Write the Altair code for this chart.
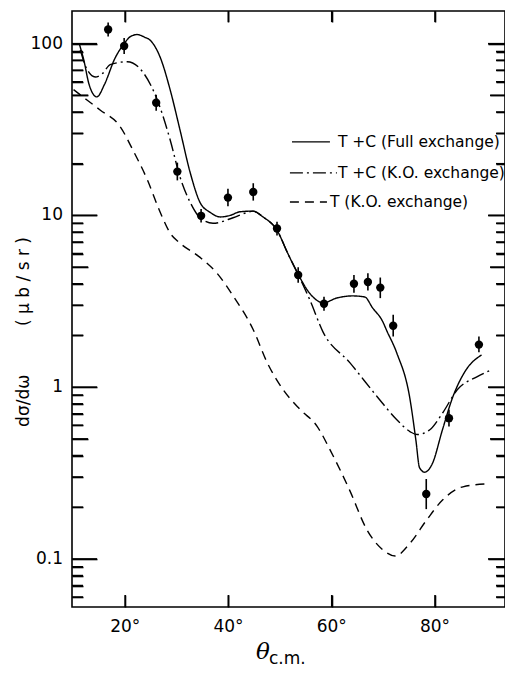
import altair as alt
import pandas as pd
import math

# ---- theory curves ----
full_x = [11.1, 12.0, 13.0, 14.5, 16.0, 18.0, 19.8, 21.0, 22.3, 23.8, 24.8, 26.8, 28.7,
          30.6, 32.6, 34.5, 36.5, 38.4, 40.3, 42.2, 44.7, 46.7, 49.4, 51.5, 53.4, 55.8,
          58.4, 60.9, 64.1, 66.4, 67.9, 69.9, 70.6, 72.6, 75.1, 76.3, 77.0, 78.0, 79.5,
          81.4, 83.4, 86.0, 89.0]
full_y = [100, 80, 58, 49, 58, 82, 100, 110, 113, 109, 105, 83, 54,
          31.6, 17.7, 11.9, 10.4, 9.8, 10.0, 10.5, 10.6, 9.8, 8.2, 6.0, 4.6, 3.5,
          3.1, 3.3, 3.4, 3.35, 2.9, 2.4, 2.15, 1.58, 0.87, 0.49, 0.34, 0.32, 0.36,
          0.56, 0.87, 1.26, 1.54]

ko_x = [11.3, 12.5, 14.2, 15.6, 17.1, 20.4, 23.5, 26.2, 28.7, 30.6, 32.6, 34.5, 37.0,
        40.9, 43.6, 44.7, 46.7, 49.4, 51.5, 53.4, 55.8, 58.3, 63.5, 68.8, 72.6, 75.2,
        76.5, 79.0, 81.5, 84.3, 88.1, 90.6]
ko_y = [92, 72, 64, 67, 75.5, 78.5, 67.8, 47.2, 27.6, 16.8, 11.9, 9.7, 9.0,
        9.7, 10.4, 10.6, 9.8, 8.2, 6.0, 4.6, 3.2, 2.1, 1.39, 0.88, 0.646, 0.55,
        0.53, 0.565, 0.71, 0.966, 1.15, 1.25]

t_x = [10.0, 12.6, 15.2, 19.0, 21.5, 24.3, 26.8, 28.7, 30.6, 34.5, 37.8, 40.9, 44.8,
       47.5, 50.6, 53.9, 57.2, 59.7, 63.5, 66.8, 69.9, 72.3, 75.2, 78.4, 81.5, 85.4, 90.6]
t_y = [54, 47, 41, 33, 24, 16.1, 10.4, 7.9, 6.9, 5.7, 4.6, 3.4, 2.16,
       1.39, 0.966, 0.74, 0.59, 0.43, 0.25, 0.148, 0.113, 0.104, 0.124, 0.169, 0.221, 0.263, 0.274]

# ---- measured points ----
pts_x = [16.7, 19.8, 26.0, 30.1, 34.7, 39.9, 44.8, 49.4, 53.5, 58.5, 64.3, 67.0, 69.4,
         71.9, 78.3, 82.7, 88.5]
pts_y = [121, 97, 45.3, 18.0, 9.95, 12.7, 13.7, 8.4, 4.5, 3.06, 4.0, 4.1, 3.8,
         2.28, 0.239, 0.66, 1.77]
pts_lo = [110, 87, 40.7, 16.0, 9.1, 11.3, 12.2, 7.65, 4.05, 2.79, 3.55, 3.65, 3.3,
          1.97, 0.195, 0.59, 1.6]
pts_hi = [133, 108, 50.4, 20.3, 10.9, 14.3, 15.4, 9.2, 5.0, 3.36, 4.5, 4.6, 4.35,
          2.64, 0.292, 0.74, 1.97]

# ---- ticks and tick labels ----
x_ticks = [20, 40, 60, 80]
x_labels = ["20°", "40°", "60°", "80°"]
y_major = [0.1, 1, 10, 100]
y_labels = ["0.1", "1", "10", "100"]
y_mid = [0.5, 5, 50]
y_minor = [0.06, 0.07, 0.08, 0.09, 0.2, 0.3, 0.4, 0.6, 0.7, 0.8, 0.9,
           2, 3, 4, 6, 7, 8, 9, 20, 30, 40, 60, 70, 80, 90]

# ---- titles ----
y_title = "dσ/dω" + "\u00a0" * 9 + "(\u00a0μ\u00a0b\u00a0/\u00a0s\u00a0r\u00a0)"
x_title = "θ"
x_title_sub = "c.m."

# ---- legend ----
leg_style = ["full", "ko", "t"]
leg_text = ["T +C (Full exchange)", "T +C (K.O. exchange)", "T (K.O. exchange)"]
leg_y = [26.8, 17.7, 11.98]
leg_x0 = [52.3, 51.9, 51.9]
leg_x1 = [59.65, 61.0, 59.07]
leg_tx = [61.2, 61.2, 59.65]

W, H = 433, 596
X_DOM = [9.7, 93.55]
Y_DOM = [0.0525, 155]
xs = alt.Scale(domain=X_DOM, nice=False, zero=False)
ys = alt.Scale(type="log", domain=Y_DOM, nice=False)
dash_scale = alt.Scale(domain=["full", "ko", "t"], range=[[1, 0], [13, 4, 2, 4], [9, 6]])

PX_X = W / (X_DOM[1] - X_DOM[0])
PX_DEC = H / math.log10(Y_DOM[1] / Y_DOM[0])


def X(field):
    return alt.X(field, type="quantitative", scale=xs, axis=None)


def Y(field):
    return alt.Y(field, type="quantitative", scale=ys, axis=None)


curves = pd.concat([
    pd.DataFrame({"x": full_x, "y": full_y, "s": "full"}),
    pd.DataFrame({"x": ko_x, "y": ko_y, "s": "ko"}),
    pd.DataFrame({"x": t_x, "y": t_y, "s": "t"}),
])

lines = alt.Chart(curves).mark_line(color="black", strokeWidth=1.4, interpolate="monotone").encode(
    x=X("x"), y=Y("y"),
    strokeDash=alt.StrokeDash("s:N", scale=dash_scale, legend=None),
    detail="s:N",
)

pts_df = pd.DataFrame({"x": pts_x, "y": pts_y, "lo": pts_lo, "hi": pts_hi})
errs = alt.Chart(pts_df).mark_rule(color="black", strokeWidth=1.6).encode(
    x=X("x"), y=Y("lo"), y2="hi:Q")
dots = alt.Chart(pts_df).mark_circle(color="black", opacity=1, size=70).encode(
    x=X("x"), y=Y("y"))

# inward ticks as short rules (same style as the error bars)
xt_rows = []
for v in x_ticks:
    xt_rows.append({"x": v, "y0": Y_DOM[0], "y1": Y_DOM[0] * 10 ** (12 / PX_DEC)})
    xt_rows.append({"x": v, "y0": Y_DOM[1], "y1": Y_DOM[1] / 10 ** (11 / PX_DEC)})
x_tick_l = alt.Chart(pd.DataFrame(xt_rows)).mark_rule(color="black", strokeWidth=1.6).encode(
    x=X("x"), y=Y("y0"), y2="y1:Q")

yt_rows = []
for vals, left_len, right_len in [(y_major, 25, 17), (y_mid, 16, 15), (y_minor, 11, 9)]:
    for v in vals:
        yt_rows.append({"y": v, "x0": X_DOM[0], "x1": X_DOM[0] + left_len / PX_X})
        yt_rows.append({"y": v, "x0": X_DOM[1], "x1": X_DOM[1] - right_len / PX_X})
y_tick_l = alt.Chart(pd.DataFrame(yt_rows)).mark_rule(color="black", strokeWidth=1.6).encode(
    y=Y("y"), x=X("x0"), x2="x1:Q")

# the same inward ticks again through real axes, flipped onto the opposite edge
y_all = y_major + y_mid + y_minor
maj_test = "indexof([0.1, 1, 10, 100], datum.value) >= 0"
mid_test = "indexof([0.5, 5, 50], datum.value) >= 0"
ax_common = dict(labels=False, domain=False, grid=False, title="", tickColor="black",
                 tickWidth=1.6)
axA = alt.Chart(curves).mark_point(opacity=0).encode(
    x=alt.X("x:Q", scale=xs, axis=alt.Axis(orient="top", offset=-H, values=x_ticks,
                                           tickSize=12, **ax_common)),
    y=alt.Y("y:Q", scale=ys, axis=alt.Axis(
        orient="right", offset=-W, values=y_all,
        tickSize={"condition": [{"test": maj_test, "value": 25},
                                {"test": mid_test, "value": 16}], "value": 11},
        **ax_common)),
)
axB = alt.Chart(curves).mark_point(opacity=0).encode(
    x=alt.X("x:Q", scale=xs, axis=alt.Axis(orient="bottom", offset=-H, values=x_ticks,
                                           tickSize=11, **ax_common)),
    y=alt.Y("y:Q", scale=ys, axis=alt.Axis(
        orient="left", offset=-W, values=y_all,
        tickSize={"condition": [{"test": maj_test, "value": 17},
                                {"test": mid_test, "value": 15}], "value": 9},
        **ax_common)),
)

x_lab = alt.Chart(pd.DataFrame({"x": x_ticks, "lab": x_labels})).mark_text(
    align="center", baseline="top", font="DejaVu Sans", fontSize=17, color="black"
).encode(x=X("x"), y=alt.value(H + 12), text="lab:N")

y_lab = alt.Chart(pd.DataFrame({"y": y_major, "lab": y_labels})).mark_text(
    align="right", baseline="middle", font="DejaVu Sans", fontSize=17, color="black"
).encode(y=Y("y"), x=alt.value(-9), text="lab:N")

leg_df = pd.DataFrame({"s": leg_style, "t": leg_text, "y": leg_y,
                       "x0": leg_x0, "x1": leg_x1, "tx": leg_tx})
leg_lines = alt.Chart(leg_df).mark_rule(color="black", strokeWidth=1.4).encode(
    x=X("x0"), x2="x1:Q", y=Y("y"),
    strokeDash=alt.StrokeDash("s:N", scale=dash_scale, legend=None),
)
leg_text_l = alt.Chart(leg_df).mark_text(align="left", baseline="middle", font="DejaVu Sans",
                                         fontSize=15.5, color="black").encode(
    x=X("tx"), y=Y("y"), text="t:N")

ytl = alt.Chart(pd.DataFrame({"t": [y_title]})).mark_text(
    align="center", baseline="middle", angle=270, font="DejaVu Sans", fontSize=17, color="black"
).encode(x=alt.value(-48), y=alt.value(321), text="t:N")
xtl = alt.Chart(pd.DataFrame({"t": [x_title]})).mark_text(
    align="center", baseline="middle", font="DejaVu Serif", fontStyle="italic", fontSize=23,
    color="black"
).encode(x=alt.value(191), y=alt.value(641), text="t:N")
sub = alt.Chart(pd.DataFrame({"t": [x_title_sub]})).mark_text(
    align="left", baseline="alphabetic", font="DejaVu Sans", fontSize=17, color="black"
).encode(x=alt.value(197), y=alt.value(653), text="t:N")

chart = alt.layer(
    axA, axB, lines, errs, dots, x_tick_l, y_tick_l, x_lab, y_lab,
    leg_lines, leg_text_l, ytl, xtl, sub
).resolve_axis(x="independent", y="independent").properties(
    width=W, height=H,
    autosize=alt.AutoSizeParams(type="none"),
    padding={"left": 64, "top": 3, "right": 0, "bottom": 62},
).configure(background="white").configure_view(stroke="black", strokeWidth=1.6)

chart.save("out.html", embed_options={"renderer": "svg", "actions": False})
